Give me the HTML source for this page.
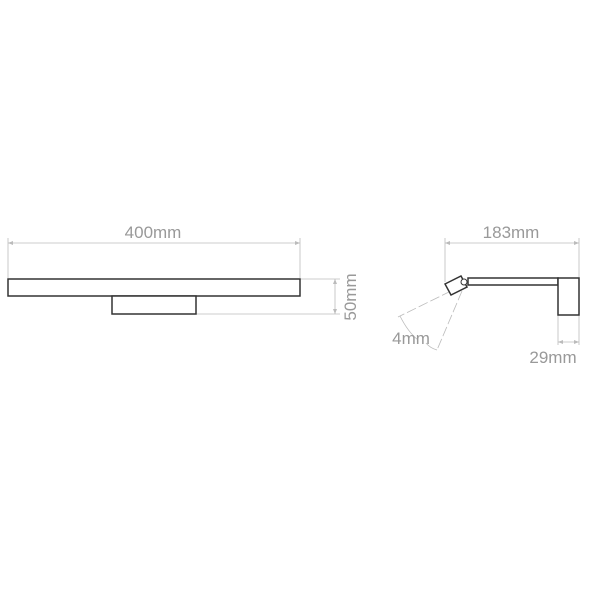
<!DOCTYPE html>
<html><head><style>body{margin:0;background:#fff}svg{display:block}</style></head><body>
<svg width="600" height="600" viewBox="0 0 600 600" xmlns="http://www.w3.org/2000/svg" font-family="Liberation Sans, sans-serif">
<rect width="600" height="600" fill="#fff"/>
<g stroke="#bbb" stroke-width="0.8" fill="none">
<line x1="8" y1="238" x2="8" y2="278"/>
<line x1="300" y1="238" x2="300" y2="278"/>
<line x1="8" y1="243" x2="300" y2="243"/>
<line x1="300" y1="279" x2="340" y2="279"/>
<line x1="196" y1="314" x2="340" y2="314"/>
<line x1="335" y1="279" x2="335" y2="314"/>
<line x1="445" y1="238" x2="445" y2="282"/>
<line x1="579" y1="238" x2="579" y2="345"/>
<line x1="445" y1="243" x2="579" y2="243"/>
<line x1="558" y1="315" x2="558" y2="345"/>
<line x1="558" y1="342" x2="579" y2="342"/>
<line x1="451" y1="291" x2="398" y2="317" stroke-dasharray="10,3"/>
<line x1="462" y1="291" x2="437" y2="350" stroke-dasharray="10,3"/>
<path d="M400 316 Q408 332 418 340"/>
<path d="M426 343 Q430 348 437 350"/>
</g>
<g fill="#bbb">
<path d="M8 243 l5 -2 v4z"/><path d="M300 243 l-5 -2 v4z"/>
<path d="M335 279 l-2 5 h4z"/><path d="M335 314 l-2 -5 h4z"/>
<path d="M445 243 l5 -2 v4z"/><path d="M579 243 l-5 -2 v4z"/>
<path d="M558 342 l5 -2 v4z"/><path d="M579 342 l-5 -2 v4z"/>
</g>
<g stroke="#333" stroke-width="1.5" fill="#fff">
<rect x="8" y="279" width="292" height="17"/>
<rect x="112" y="296" width="84" height="18"/>
<rect x="468" y="278" width="90" height="7"/>
<rect x="558" y="278" width="21" height="37"/>
<polygon points="445,284 461,276 467,287 451,295"/>
<circle cx="464" cy="282" r="3" stroke-width="1"/>
</g>
<g fill="#999" font-size="17">
<text x="153" y="238" text-anchor="middle">400mm</text>
<text x="511" y="238" text-anchor="middle">183mm</text>
<text x="553" y="363" text-anchor="middle">29mm</text>
<text x="411" y="344" text-anchor="middle">4mm</text>
<text transform="translate(356,297) rotate(-90)" text-anchor="middle">50mm</text>
</g>
</svg>
</body></html>
